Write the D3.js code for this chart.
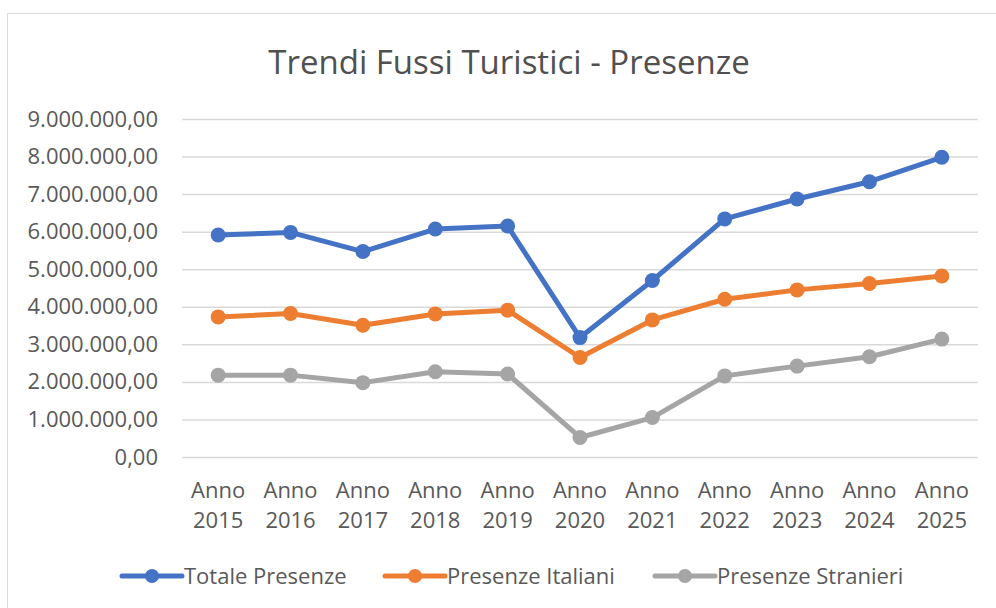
<!DOCTYPE html>
<html>
<head>
<meta charset="utf-8">
<script src="https://cdn.jsdelivr.net/npm/d3@7"></script>
<style>
  html, body { margin: 0; padding: 0; background: #fff; }
  svg { display: block; font-family: 'Open Sans', sans-serif; }
</style>
</head>
<body>
<svg id="chart"></svg>
<script>
const years = ['2015', '2016', '2017', '2018', '2019', '2020', '2021', '2022', '2023', '2024', '2025']
const totale = [5.91, 5.98, 5.47, 6.07, 6.15, 3.18, 4.70, 6.34, 6.87, 7.33, 7.98].map(v => v * 1e6)
const italiani = [3.73, 3.82, 3.51, 3.81, 3.91, 2.65, 3.65, 4.20, 4.45, 4.62, 4.82].map(v => v * 1e6)
const stranieri = [2.18, 2.18, 1.98, 2.27, 2.21, 0.52, 1.05, 2.16, 2.42, 2.67, 3.14].map(v => v * 1e6)
const seriesNames = ['Totale Presenze', 'Presenze Italiani', 'Presenze Stranieri']
const yTicks = [0, 1, 2, 3, 4, 5, 6, 7, 8, 9].map(v => v * 1e6)

const colors = ['#4472C4', '#ED7D31', '#A5A5A5']
const text_color = '#595959'

const [sizeX, sizeY] = [996, 608]
const svg = d3.select('svg#chart')
  .attr('width', sizeX)
  .attr('height', sizeY)

// chart frame
svg.append('rect')
  .attr('x', 7.5)
  .attr('y', 13.5)
  .attr('width', sizeX)
  .attr('height', sizeY)
  .attr('fill', 'none')
  .attr('stroke', '#d9d9d9')

const plotLeft = 182, plotRight = 978, plotTop = 119, plotBottom = 457

const x = d3.scaleBand().domain(years).range([plotLeft, plotRight])
const y = d3.scaleLinear().domain([0, 9e6]).range([plotBottom, plotTop])

const it = d3.formatLocale({ decimal: ',', thousands: '.', grouping: [3], currency: ['€', ''] })
const fmt = it.format(',.2f')

svg.append('text')
  .attr('x', 509)
  .attr('y', 74)
  .attr('fill', '#505050')
  .style('font-size', '33px')
  .style('text-anchor', 'middle')
  .text('Trendi Fussi Turistici - Presenze')

// grid + y labels
const yAxis = svg.append('g')
  .attr('transform', `translate(${plotLeft}, 0)`)
  .call(d3.axisLeft(y).tickValues(yTicks).tickFormat(fmt).tickSize(-(plotRight - plotLeft)).tickPadding(24))
yAxis.select('.domain').remove()
yAxis.selectAll('.tick line').attr('stroke', '#d9d9d9').attr('stroke-width', 1.5)
yAxis.selectAll('.tick text')
  .attr('fill', text_color)
  .style('font-size', '22px')
  .style('font-family', "'Open Sans', sans-serif")

// x labels
const xLabels = svg.append('g')
  .selectAll('text')
  .data(years)
  .enter()
  .append('text')
  .attr('fill', text_color)
  .style('font-size', '22px')
  .style('text-anchor', 'middle')
xLabels.append('tspan')
  .attr('x', d => x(d) + x.bandwidth() / 2)
  .attr('y', 498)
  .text('Anno')
xLabels.append('tspan')
  .attr('x', d => x(d) + x.bandwidth() / 2)
  .attr('y', 528)
  .text(d => d)

const allSeries = [totale, italiani, stranieri]
const line = d3.line()
  .x((_, i) => x(years[i]) + x.bandwidth() / 2)
  .y(v => y(v))

allSeries.forEach((values, s) => {
  const g = svg.append('g')
  g.append('path')
    .attr('d', line(values))
    .attr('fill', 'none')
    .attr('stroke', colors[s])
    .attr('stroke-width', 5)
    .attr('stroke-linejoin', 'round')
    .attr('stroke-linecap', 'round')
  g.selectAll('circle')
    .data(values)
    .enter()
    .append('circle')
    .attr('cx', (_, i) => x(years[i]) + x.bandwidth() / 2)
    .attr('cy', v => y(v))
    .attr('r', 7.5)
    .attr('fill', colors[s])
})

// legend
const legendX = [122, 385, 655]
const legend = svg.append('g')
  .selectAll('g')
  .data(seriesNames)
  .enter()
  .append('g')
  .attr('transform', (_, i) => `translate(${legendX[i]}, 576)`)
legend.append('line')
  .attr('x1', 0)
  .attr('x2', 60)
  .attr('stroke', (_, i) => colors[i])
  .attr('stroke-width', 5)
  .attr('stroke-linecap', 'round')
legend.append('circle')
  .attr('cx', 30)
  .attr('r', 7)
  .attr('fill', (_, i) => colors[i])
legend.append('text')
  .attr('x', 62)
  .attr('y', 8)
  .attr('fill', text_color)
  .style('font-size', '22px')
  .text(d => d)
</script>
</body>
</html>
